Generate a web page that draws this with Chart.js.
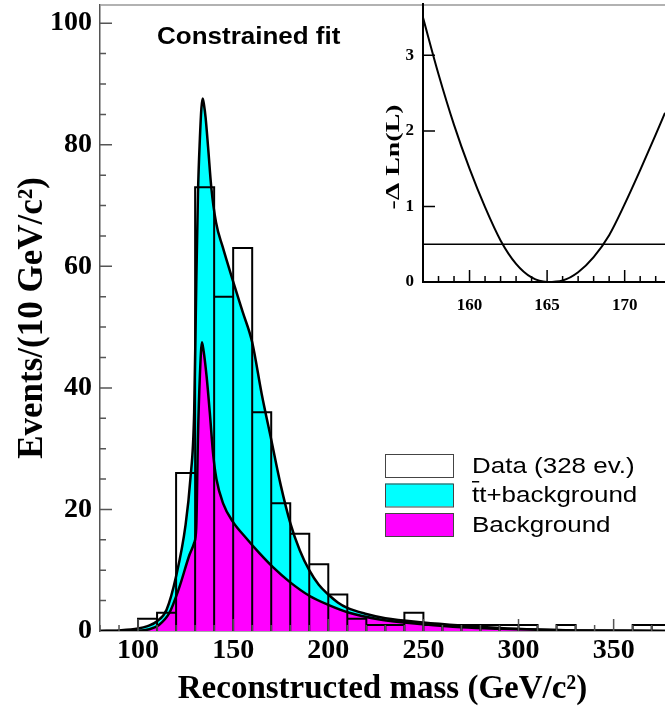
<!DOCTYPE html>
<html>
<head>
<meta charset="utf-8">
<script src="https://cdn.jsdelivr.net/npm/chart.js@4.4.1/dist/chart.umd.min.js"></script>
<style>
  html, body { margin: 0; padding: 0; background: #fff; }
  #wrap { position: relative; width: 665px; height: 709px; }
  #main { position: absolute; left: 0; top: 0; }
  #inset { position: absolute; left: 340px; top: 0; }
</style>
</head>
<body>
<div id="wrap">
  <canvas id="main" width="665" height="709"></canvas>
  <canvas id="inset" width="325" height="320"></canvas>
</div>
<script>
// Reconstructed top mass - constrained fit

// Data histogram: 10 GeV bins (lower edges) and event counts
const binLow = [100, 110, 120, 130, 140, 150, 160, 170, 180, 190, 200, 210, 220, 230,
                240, 250, 260, 270, 280, 290, 300, 310, 320, 330, 340, 350, 360, 370];
const binCounts = [2, 3, 26, 73, 55, 63, 36, 21, 16, 11, 6, 2, 1, 1,
                   3, 1, 1, 1, 1, 1, 1, 0, 1, 0, 0, 0, 1, 1];
const BIN_WIDTH = 10;

// tt+background fit curve
const totalMass = [80, 90, 100, 105, 110, 115, 120, 125, 127.5, 129.5, 130.6, 131.5, 132.5, 133.3,
                   134, 134.7, 135.5, 136.8, 138.5, 141, 144.5, 150, 155, 160, 165, 170, 175, 180,
                   185, 190, 195, 200, 205, 210, 220, 230, 250, 270, 290, 310, 330, 380];
const totalEvents = [0, 0.1, 0.4, 0.8, 1.6, 3.5, 9, 17.5, 25, 36, 57, 72, 81, 86,
                     87.6, 86.5, 84.5, 79.7, 73, 67.2, 63.2, 57.5, 52.5, 47.5, 39, 31.5, 24, 17.8,
                     13.3, 10, 7.6, 6, 4.7, 3.8, 2.8, 2.1, 1.4, 0.9, 0.5, 0.25, 0.1, 0];

// background-only curve
const bkgMass = [80, 100, 106, 111, 116.5, 121.5, 127, 129.5, 130.6, 131.5, 132.5, 133.6, 134.5,
                 136, 137.7, 139.5, 141.2, 144.7, 149.8, 156.8, 163.8, 170.9, 180, 190, 200, 211,
                 227, 250, 270, 290, 310, 330, 380];
const bkgEvents = [0, 0.05, 0.3, 1.0, 3.0, 7, 12.5, 14.5, 17, 32, 42, 47.5, 46,
                   42, 36, 29, 25, 21, 18, 15.3, 12.8, 10.5, 8, 5.8, 4.3, 3.0,
                   1.9, 1.1, 0.6, 0.35, 0.2, 0.1, 0];

const massTicks = [100, 150, 200, 250, 300, 350];
const eventTicks = [0, 20, 40, 60, 80, 100];

// Inset: likelihood scan vs top mass
const scanMass = [157, 158, 159, 160, 161, 162, 163, 164, 165, 166, 167, 168, 169, 170, 171, 172, 172.6];
const scanNll = [3.50, 2.75, 2.08, 1.50, 0.99, 0.55, 0.24, 0.06, 0.0, 0.02, 0.13, 0.33, 0.62, 1.03, 1.48, 1.95, 2.24];
const CUT_LEVEL = 0.5;
const scanMassTicks = [160, 165, 170];
const nllTicks = [0, 1, 2, 3];

const legendLabels = ['Data (328 ev.)', 'tt+background', 'Background'];

const SERIF = "'Liberation Serif', 'Times New Roman', serif";
const SANS = "'Liberation Sans', Arial, Helvetica, sans-serif";

Chart.defaults.font.family = SERIF;
Chart.defaults.color = '#000';

function toPoints(xs, ys) {
  return xs.map((x, i) => ({ x: x, y: ys[i] }));
}

// each bin drawn as a full open box
const histPoints = [];
binLow.forEach((lo, i) => {
  const hi = lo + BIN_WIDTH;
  const c = binCounts[i];
  histPoints.push({ x: lo, y: 0 }, { x: lo, y: c }, { x: hi, y: c }, { x: hi, y: 0 });
});

// keep the plot area fixed: no extra room reserved for edge labels
function fixY(width) {
  return s => { s.width = width; s.paddingTop = 0; s.paddingBottom = 0; };
}
function fixX(height) {
  return s => { s.height = height; s.paddingLeft = 0; s.paddingRight = 0; };
}

// Inward tick marks (major + minor) and the frame line on top
const frameTicks = {
  id: 'frameTicks',
  afterDatasetsDraw(chart, args, opts) {
    const { ctx, chartArea: a, scales: { x, y } } = chart;
    ctx.save();
    ctx.strokeStyle = opts.color;
    ctx.lineWidth = opts.width;
    ctx.beginPath();
    const x0 = Math.ceil(x.min / opts.xMinor - 1e-9) * opts.xMinor;
    for (let v = x0; v <= x.max + 1e-9; v += opts.xMinor) {
      const px = x.getPixelForValue(v);
      const major = Math.abs(v / opts.xMajor - Math.round(v / opts.xMajor)) < 1e-6;
      ctx.moveTo(px, a.bottom);
      ctx.lineTo(px, a.bottom - (major ? opts.majorLen : opts.minorLen));
    }
    for (let v = opts.yMinor; v <= y.max + 1e-9; v += opts.yMinor) {
      const py = y.getPixelForValue(v);
      const major = Math.abs(v / opts.yMajor - Math.round(v / opts.yMajor)) < 1e-6;
      ctx.moveTo(a.left, py);
      ctx.lineTo(a.left + (major ? opts.majorLen : opts.minorLen), py);
    }
    ctx.stroke();
    if (opts.topLine) {
      ctx.strokeStyle = opts.topLine;
      ctx.lineWidth = 1.5;
      ctx.beginPath();
      ctx.moveTo(a.left, a.top);
      ctx.lineTo(a.right, a.top);
      ctx.stroke();
    }
    ctx.restore();
  }
};

// Free text and the boxed legend (sx = stretch along the lettering)
const annotate = {
  id: 'annotate',
  afterDraw(chart, args, opts) {
    const ctx = chart.ctx;
    (opts.items || []).forEach(t => {
      ctx.save();
      ctx.translate(t.x, t.y);
      if (t.rotate) ctx.rotate(t.rotate);
      ctx.scale(t.sx || 1, 1);
      ctx.font = t.font;
      ctx.fillStyle = '#000';
      ctx.textAlign = t.align || 'left';
      ctx.textBaseline = 'middle';
      ctx.fillText(t.text, 0, 0);
      ctx.restore();
    });
    const lg = opts.legend;
    if (!lg) return;
    lg.order.forEach((dsIndex, row) => {
      const ds = chart.data.datasets[dsIndex];
      const top = lg.top + row * lg.rowStep;
      ctx.save();
      ctx.fillStyle = ds.backgroundColor || '#fff';
      ctx.fillRect(lg.left, top, lg.boxW, lg.boxH);
      ctx.strokeStyle = '#444';
      ctx.lineWidth = 1;
      ctx.strokeRect(lg.left + 0.5, top + 0.5, lg.boxW, lg.boxH);
      const tx = lg.left + lg.boxW + lg.gap;
      const ty = top + lg.boxH / 2 + 1;
      ctx.translate(tx, ty);
      ctx.scale(lg.sx, 1);
      ctx.font = lg.font;
      ctx.fillStyle = '#000';
      ctx.textAlign = 'left';
      ctx.textBaseline = 'middle';
      ctx.fillText(ds.label, 0, 0);
      if (ds.label.startsWith('tt')) {
        // bar over the first t (t-tbar)
        const w = ctx.measureText('t').width;
        ctx.fillRect(0, -15, w, 1.5);
      }
      ctx.restore();
    });
  }
};

const tickFont = { family: SERIF, size: 28, weight: 'bold' };

new Chart(document.getElementById('main'), {
  type: 'line',
  data: {
    datasets: [
      {
        label: legendLabels[0],
        data: histPoints,
        borderColor: '#000',
        backgroundColor: '#fff',
        borderWidth: 2,
        pointRadius: 0,
        tension: 0,
        fill: false
      },
      {
        label: legendLabels[2],
        data: toPoints(bkgMass, bkgEvents),
        borderColor: '#000',
        backgroundColor: '#ff00ff',
        borderWidth: 2.5,
        pointRadius: 0,
        cubicInterpolationMode: 'monotone',
        fill: 'origin'
      },
      {
        label: legendLabels[1],
        data: toPoints(totalMass, totalEvents),
        borderColor: '#000',
        backgroundColor: '#00ffff',
        borderWidth: 2.5,
        pointRadius: 0,
        cubicInterpolationMode: 'monotone',
        fill: 'origin'
      }
    ]
  },
  options: {
    responsive: false,
    animation: false,
    events: [],
    layout: { padding: { top: 5, right: 0, left: 0, bottom: 0 } },
    plugins: {
      legend: { display: false },
      tooltip: { enabled: false },
      frameTicks: {
        color: '#555', width: 1.5,
        xMinor: 10, xMajor: 50, yMinor: 5, yMajor: 20,
        majorLen: 12, minorLen: 6, topLine: '#999'
      },
      annotate: {
        items: [
          { text: 'Constrained fit', x: 157, y: 38, sx: 1.13, font: 'bold 23px ' + SANS }
        ],
        legend: {
          order: [0, 2, 1], left: 385, top: 454, rowStep: 29.5,
          boxW: 68, boxH: 23, gap: 19, sx: 1.18, font: '22px ' + SANS
        }
      }
    },
    scales: {
      x: {
        type: 'linear',
        min: 80,
        max: 377,
        afterFit: fixX(78),
        afterBuildTicks: s => { s.ticks = massTicks.map(v => ({ value: v })); },
        grid: { display: false, drawTicks: false },
        border: { display: true, color: '#555', width: 1.5 },
        ticks: { font: tickFont, color: '#000', padding: 3, maxRotation: 0, autoSkip: false },
        title: {
          display: true, text: 'Reconstructed mass (GeV/c²)', color: '#000',
          font: { family: SERIF, size: 33, weight: 'bold' },
          padding: { top: 0, bottom: 0 }
        }
      },
      y: {
        type: 'linear',
        min: 0,
        max: 103,
        afterFit: fixY(100),
        afterBuildTicks: s => { s.ticks = eventTicks.map(v => ({ value: v })); },
        grid: { display: false, drawTicks: false },
        border: { display: true, color: '#555', width: 1.5 },
        ticks: { font: tickFont, color: '#000', padding: 8 },
        title: {
          display: true, text: 'Events/(10 GeV/c²)', color: '#000',
          font: { family: SERIF, size: 35, weight: 'bold' },
          padding: { top: 12, bottom: 0 }
        }
      }
    }
  },
  plugins: [frameTicks, annotate]
});

const insetTickFont = { family: SERIF, size: 17, weight: 'bold' };

new Chart(document.getElementById('inset'), {
  type: 'line',
  data: {
    datasets: [
      {
        data: toPoints(scanMass, scanNll),
        borderColor: '#000',
        borderWidth: 2,
        pointRadius: 0,
        cubicInterpolationMode: 'monotone',
        fill: false
      },
      {
        data: [
          { x: scanMass[0], y: CUT_LEVEL },
          { x: scanMass[scanMass.length - 1], y: CUT_LEVEL }
        ],
        borderColor: '#000',
        borderWidth: 1.5,
        pointRadius: 0,
        fill: false
      }
    ]
  },
  options: {
    responsive: false,
    animation: false,
    events: [],
    layout: { padding: { top: 4, right: 0, left: 0, bottom: 0 } },
    plugins: {
      legend: { display: false },
      tooltip: { enabled: false },
      frameTicks: {
        color: '#000', width: 1.5,
        xMinor: 1, xMajor: 5, yMinor: 1, yMajor: 1,
        majorLen: 12, minorLen: 6
      },
      annotate: {
        items: [
          { text: '-\u0394 Ln(L)', x: 54, y: 157, rotate: -Math.PI / 2, align: 'center',
            sx: 1.55, font: 'bold 18px ' + SERIF }
        ]
      }
    },
    scales: {
      x: {
        type: 'linear',
        min: scanMass[0],
        max: scanMass[scanMass.length - 1],
        afterFit: fixX(38),
        afterBuildTicks: s => { s.ticks = scanMassTicks.map(v => ({ value: v })); },
        grid: { display: false, drawTicks: false },
        border: { display: true, color: '#000', width: 2 },
        ticks: { font: insetTickFont, color: '#000', padding: 13, maxRotation: 0, autoSkip: false }
      },
      y: {
        type: 'linear',
        min: 0,
        max: 3.68,
        afterFit: fixY(83),
        afterBuildTicks: s => { s.ticks = nllTicks.map(v => ({ value: v })); },
        grid: { display: false, drawTicks: false },
        border: { display: true, color: '#000', width: 2 },
        ticks: { font: insetTickFont, color: '#000', padding: 9 }
      }
    }
  },
  plugins: [frameTicks, annotate]
});
</script>
</body>
</html>
